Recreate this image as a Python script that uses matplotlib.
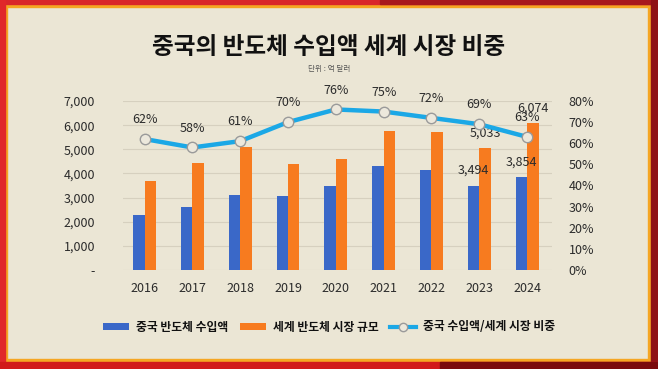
import matplotlib
matplotlib.use("Agg")
import matplotlib.pyplot as plt
from matplotlib.patches import Rectangle, Patch
from matplotlib.lines import Line2D
import numpy as np

plt.rcParams['font.family'] = ['Noto Sans CJK KR', 'DejaVu Sans']

years = ["2016", "2017", "2018", "2019", "2020", "2021", "2022", "2023", "2024"]
china_imports = [2270, 2600, 3120, 3060, 3490, 4300, 4150, 3494, 3854]
world_market = [3670, 4450, 5100, 4370, 4600, 5760, 5720, 5033, 6074]
share_pct = [62, 58, 61, 70, 76, 75, 72, 69, 63]
labeled_years = ["2023", "2024"]

left_ticks = [0, 1000, 2000, 3000, 4000, 5000, 6000, 7000]
left_ticklabels = ["-", "1,000", "2,000", "3,000", "4,000", "5,000", "6,000", "7,000"]
right_ticks = [0, 10, 20, 30, 40, 50, 60, 70, 80]

BG = "#ebe6d5"
BLUE = "#3a68c8"
ORANGE = "#f77b1f"
LINE = "#1ba8e6"
TXT = "#2b2b2b"

fig = plt.figure(figsize=(6.58, 3.69), dpi=100)
fig.patch.set_facecolor(BG)

# red frame with thin orange inner line
W, H = 658, 369
def frame_rect(x, y, w, h, color):
    fig.patches.append(Rectangle((x / W, 1 - (y + h) / H), w / W, h / H,
                                 transform=fig.transFigure, color=color, zorder=0))

frame_rect(0, 0, W, 7, "#f5a623")
frame_rect(0, 0, 7, H, "#f5a623")
frame_rect(648, 0, 10, H, "#f5a623")
frame_rect(0, 359, W, 10, "#f5a623")
frame_rect(0, 0, W, 4, "#d9272a")
frame_rect(380, 0, 278, 4, "#a8191d")
frame_rect(0, 0, 5, H, "#e0282a")
frame_rect(651, 0, 7, H, "#8e1216")
frame_rect(0, 362, W, 7, "#d11a1a")
frame_rect(440, 362, 218, 7, "#7a0a0c")

ax = fig.add_axes([123 / W, 1 - 270 / H, 429 / W, 169 / H])
ax.set_facecolor("none")
x = np.arange(len(years))
bw = 0.24
ax.bar(x - bw / 2, china_imports, bw, color=BLUE, zorder=2)
ax.bar(x + bw / 2, world_market, bw, color=ORANGE, zorder=2)
ax.set_xlim(-0.45, len(years) - 0.48)
ax.set_ylim(0, 7000)
ax.set_yticks(left_ticks)
ax.set_yticklabels(left_ticklabels)
ax.set_xticks(x)
ax.set_xticklabels(years)
ax.grid(axis="y", color="#d6d0bf", linewidth=0.8, zorder=0)
ax.tick_params(length=0, labelsize=9, labelcolor=TXT)
ax.tick_params(axis="y", pad=20)
ax.tick_params(axis="x", pad=9)
for s in ax.spines.values():
    s.set_visible(False)

for i, yr in enumerate(years):
    if yr in labeled_years:
        ax.annotate(f"{china_imports[i]:,}", (x[i] - bw / 2, china_imports[i]),
                    xytext=(0, 11), textcoords="offset points",
                    ha="center", va="center", fontsize=9, color=TXT)
        ax.annotate(f"{world_market[i]:,}", (x[i] + bw / 2, world_market[i]),
                    xytext=(0, 11), textcoords="offset points",
                    ha="center", va="center", fontsize=9, color=TXT)

ax2 = ax.twinx()
ax2.set_ylim(0, 80)
ax2.set_yticks(right_ticks)
ax2.set_yticklabels([f"{t}%" for t in right_ticks])
ax2.tick_params(length=0, labelsize=9, labelcolor=TXT, pad=12)
for s in ax2.spines.values():
    s.set_visible(False)
ax2.plot(x, share_pct, color=LINE, linewidth=3.2, marker="o", markersize=7.5,
         markerfacecolor="#ece8dc", markeredgecolor="#9a9a9a", markeredgewidth=1.0,
         zorder=3)
for i, v in enumerate(share_pct):
    ax2.annotate(f"{v}%", (x[i], v), xytext=(0, 14), textcoords="offset points",
                 ha="center", va="center", fontsize=9, color=TXT)

fig.text(0.5, 1 - 47 / H, "중국의 반도체 수입액 세계 시장 비중", ha="center", va="center",
         fontsize=17, fontweight="heavy", color="#111111")
fig.text(0.5, 1 - 69 / H, "단위 : 억 달러", ha="center", va="center",
         fontsize=5.5, color="#555555")

handles = [
    Patch(facecolor=BLUE, edgecolor="none"),
    Patch(facecolor=ORANGE, edgecolor="none"),
    Line2D([0], [0], color=LINE, linewidth=3, marker="o", markersize=6,
           markerfacecolor="#ece8dc", markeredgecolor="#9a9a9a"),
]
labels = ["중국 반도체 수입액", "세계 반도체 시장 규모", "중국 수입액/세계 시장 비중"]
fig.legend(handles, labels, loc="center", bbox_to_anchor=(0.5, 1 - 327 / H), ncol=3,
           frameon=False, prop={"size": 8.5, "weight": "bold"}, handlelength=2.2,
           handleheight=0.55, columnspacing=1.0, handletextpad=0.6, labelcolor="#111111")

fig.savefig("out.png", dpi=100, facecolor=BG)
